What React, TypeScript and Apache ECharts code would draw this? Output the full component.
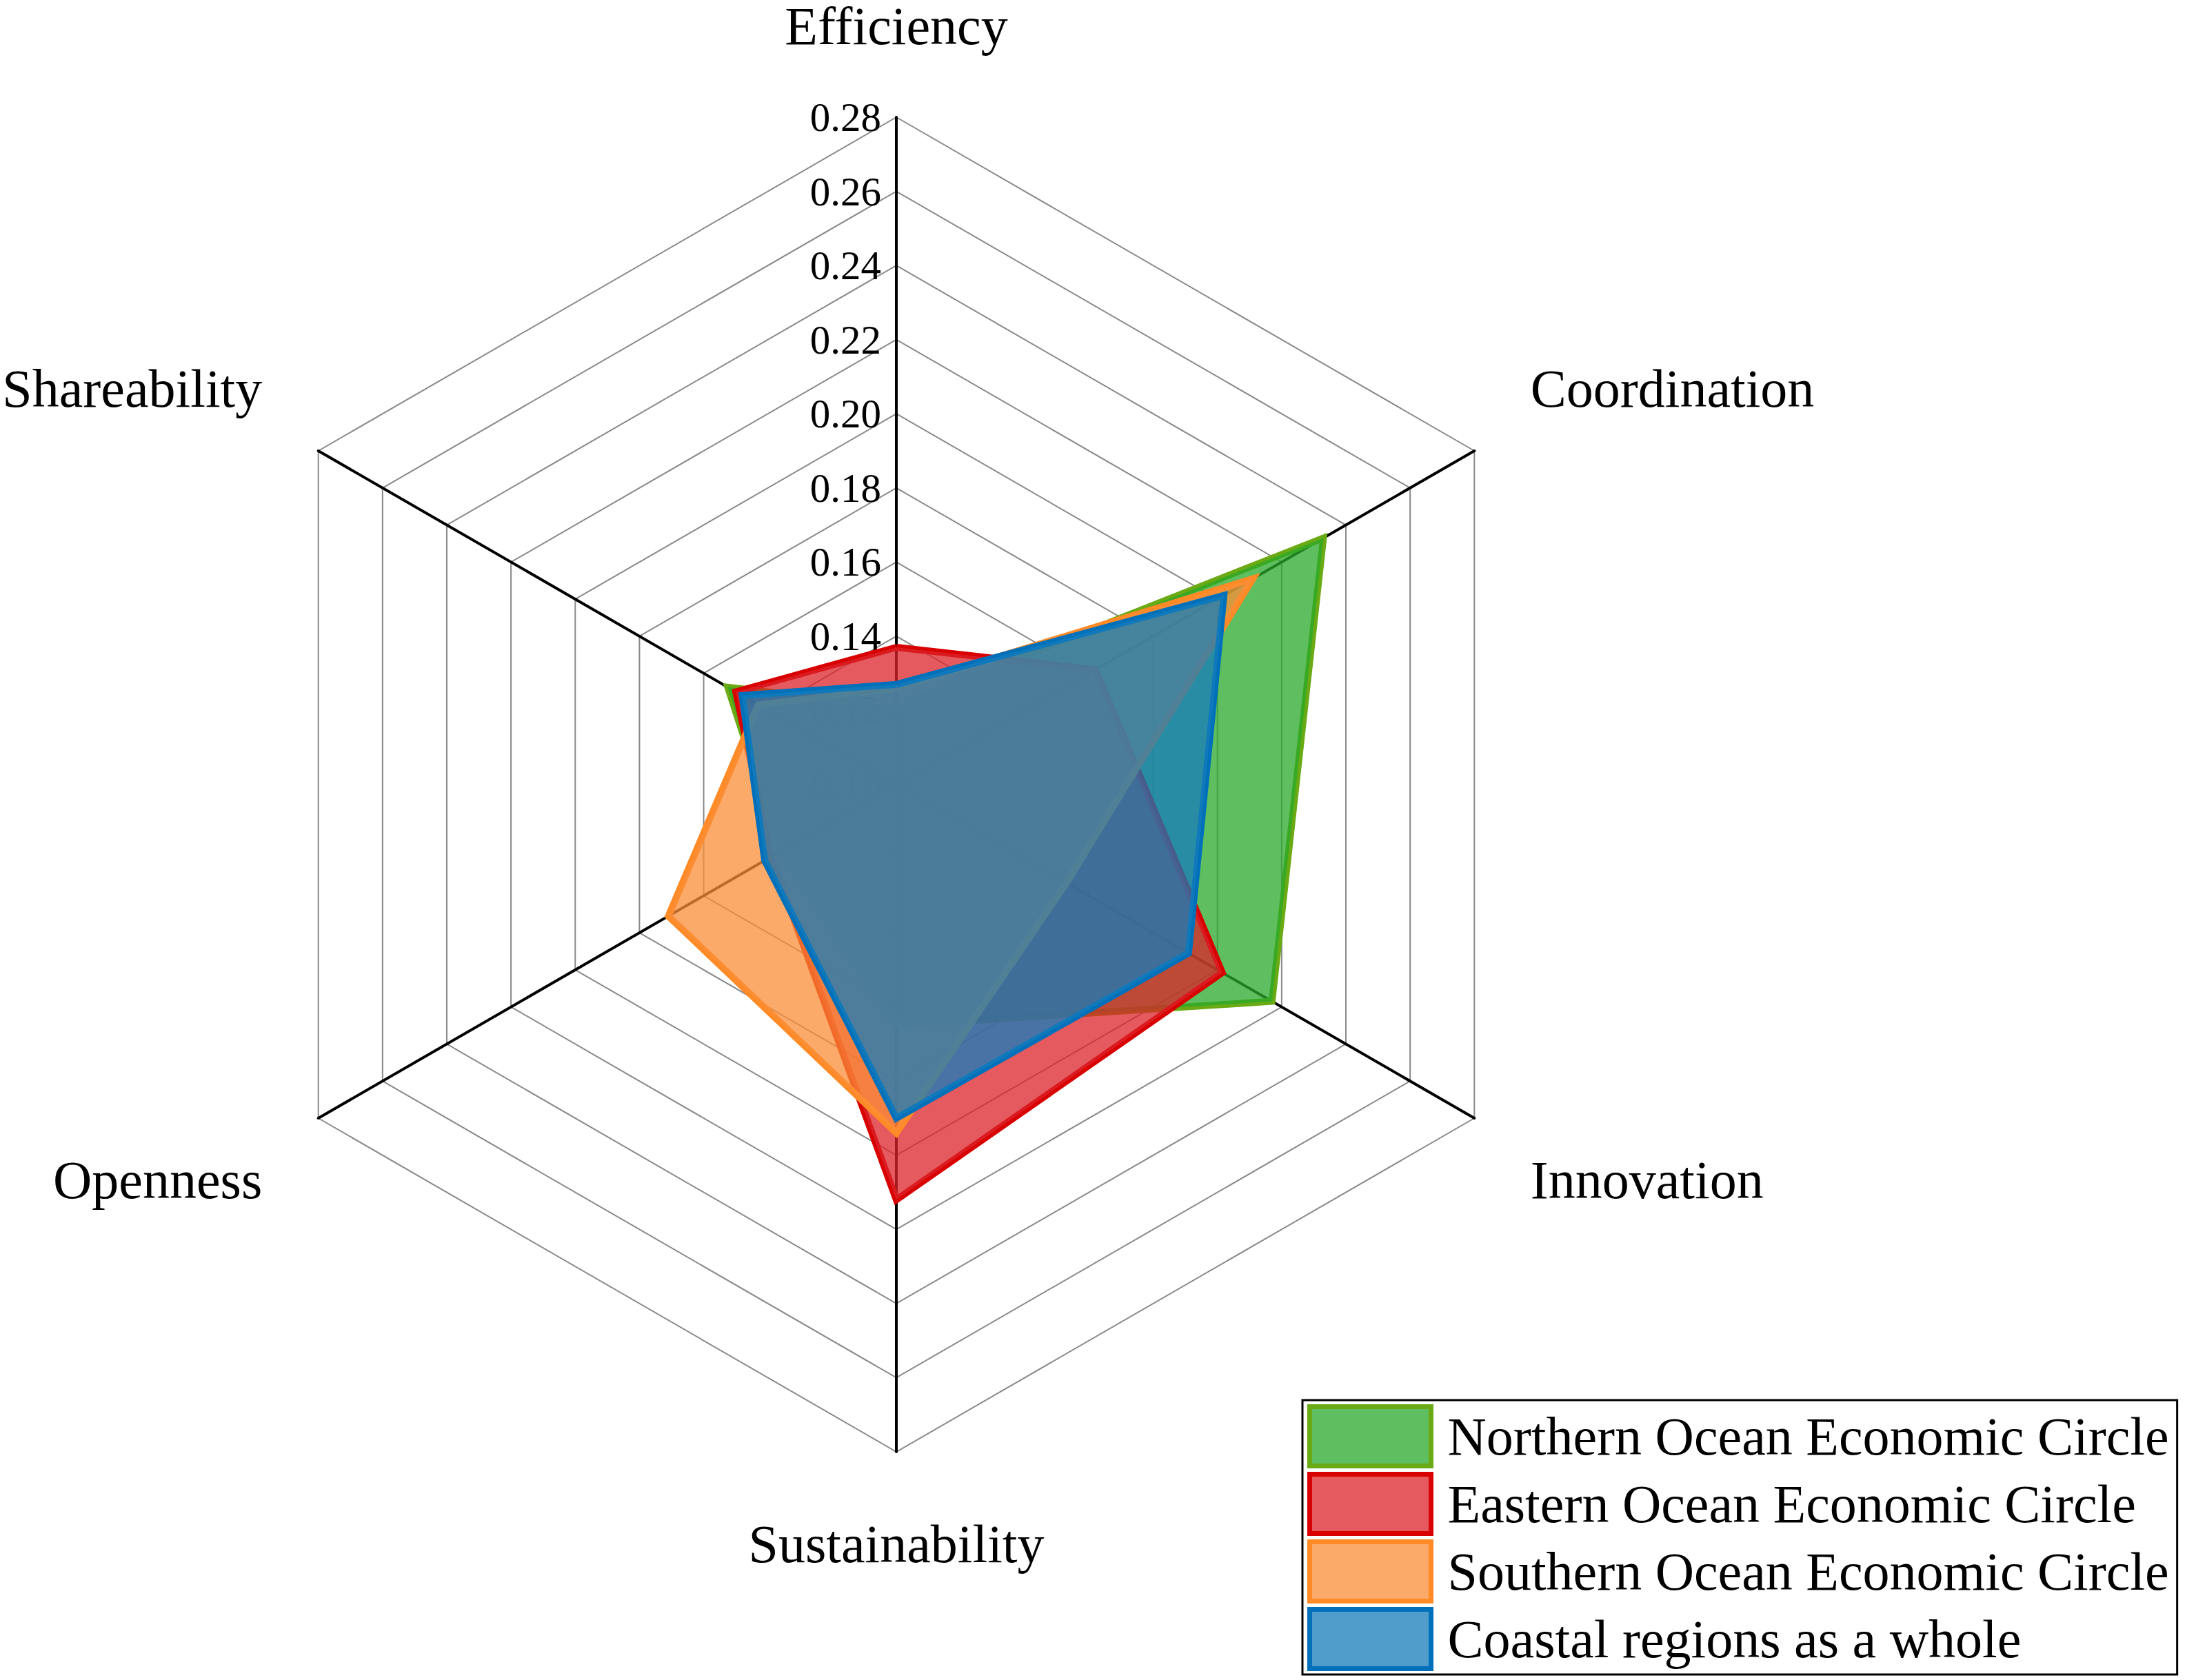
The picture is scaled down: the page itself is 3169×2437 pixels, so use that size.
import React, { useEffect, useRef } from "react";
import * as echarts from "echarts";

// Indicators in ECharts radar order (counter-clockwise from the top)
const indicatorNames = ["Efficiency", "Shareability", "Openness", "Sustainability", "Innovation", "Coordination"];
const upperSideNames = ["Shareability", "Coordination"];
const lowerSideNames = ["Openness", "Innovation"];
const axisMin = 0.1;
const axisMax = 0.28;
const splitCount = 9;

const seriesNames = [
  "Northern Ocean Economic Circle",
  "Eastern Ocean Economic Circle",
  "Southern Ocean Economic Circle",
  "Coastal regions as a whole",
];

// values in indicator order: Efficiency, Shareability, Openness, Sustainability, Innovation, Coordination
const northern = [0.121, 0.1525, 0.136, 0.165, 0.217, 0.233];
const eastern = [0.137, 0.150, 0.139, 0.212, 0.2015, 0.162];
const southern = [0.126, 0.143, 0.171, 0.194, 0.153, 0.211];
const coastal = [0.127, 0.148, 0.141, 0.190, 0.191, 0.202];

const seriesValues = [northern, eastern, southern, coastal];

const fills = [
  "rgba(42,168,42,0.75)",
  "rgba(219,35,42,0.75)",
  "rgba(251,142,55,0.75)",
  "rgba(22,124,187,0.75)",
];
const strokes = ["#6aaa14", "#d80000", "#ff8a26", "#0070ba"];

const FONT = '"Liberation Serif", "Times New Roman", serif';

export default function App() {
  const ref = useRef<HTMLDivElement>(null);

  useEffect(() => {
    document.body.style.margin = "0";
    if (!ref.current) return;
    const chart = echarts.init(ref.current, undefined, { renderer: "svg" });

    const indicator = indicatorNames.map((name, i) => {
      const base: any = { name, min: axisMin, max: axisMax };
      if (i === 0) {
        base.axisLabel = {
          show: true,
          color: "#000",
          fontSize: 59,
          fontFamily: FONT,
          margin: 22,
          formatter: (v: number) => Number(v).toFixed(2),
        };
      } else {
        base.axisLabel = { show: false };
      }
      return base;
    });

    const nameStyle = { color: "#000", fontSize: 78, fontFamily: FONT };

    const option: any = {
      animation: false,
      backgroundColor: "#ffffff",
      legend: {
        orient: "vertical",
        left: 1889,
        top: 2031,
        padding: [6, 12, 5, 7],
        borderColor: "#000",
        borderWidth: 3,
        itemWidth: 176,
        itemHeight: 86,
        itemGap: 5,
        icon: "rect",
        align: "left",
        textStyle: {
          fontSize: 78,
          lineHeight: 80,
          fontFamily: FONT,
          color: "#000",
          padding: [0, 0, 0, 19],
        },
        data: seriesNames.map((n, i) => ({
          name: n,
          itemStyle: {
            color: fills[i],
            borderColor: strokes[i],
            borderWidth: 7,
            opacity: 1,
          },
        })),
      },
      radar: {
        center: [1300, 1138],
        radius: 968,
        startAngle: 90,
        shape: "polygon",
        splitNumber: splitCount,
        indicator,
        nameGap: 94,
        axisNameGap: 94,
        axisName: {
          ...nameStyle,
          formatter: (name: string) => {
            if (upperSideNames.indexOf(name) >= 0) return "{up|" + name + "}";
            if (lowerSideNames.indexOf(name) >= 0) return "{down|" + name + "}";
            return name;
          },
          rich: {
            up: { ...nameStyle, padding: [0, 0, 88, 0] },
            down: { ...nameStyle, padding: [84, 0, 0, 0] },
          },
        },
        axisLine: { lineStyle: { color: "#000", width: 4 } },
        axisTick: { show: false },
        splitLine: { lineStyle: { color: "#8a8a8a", width: 2 } },
        splitArea: { show: false },
      },
      series: [
        {
          type: "radar",
          symbol: "none",
          data: seriesValues.map((vals, i) => ({
            name: seriesNames[i],
            value: vals,
            lineStyle: { color: strokes[i], width: 10, join: "miter" },
            areaStyle: { color: fills[i], opacity: 1 },
            itemStyle: { color: fills[i], borderColor: strokes[i] },
          })),
        },
      ],
    };

    chart.setOption(option);
    return () => {
      chart.dispose();
    };
  }, []);

  return <div ref={ref} style={{ width: 3169, height: 2437 }} />;
}
